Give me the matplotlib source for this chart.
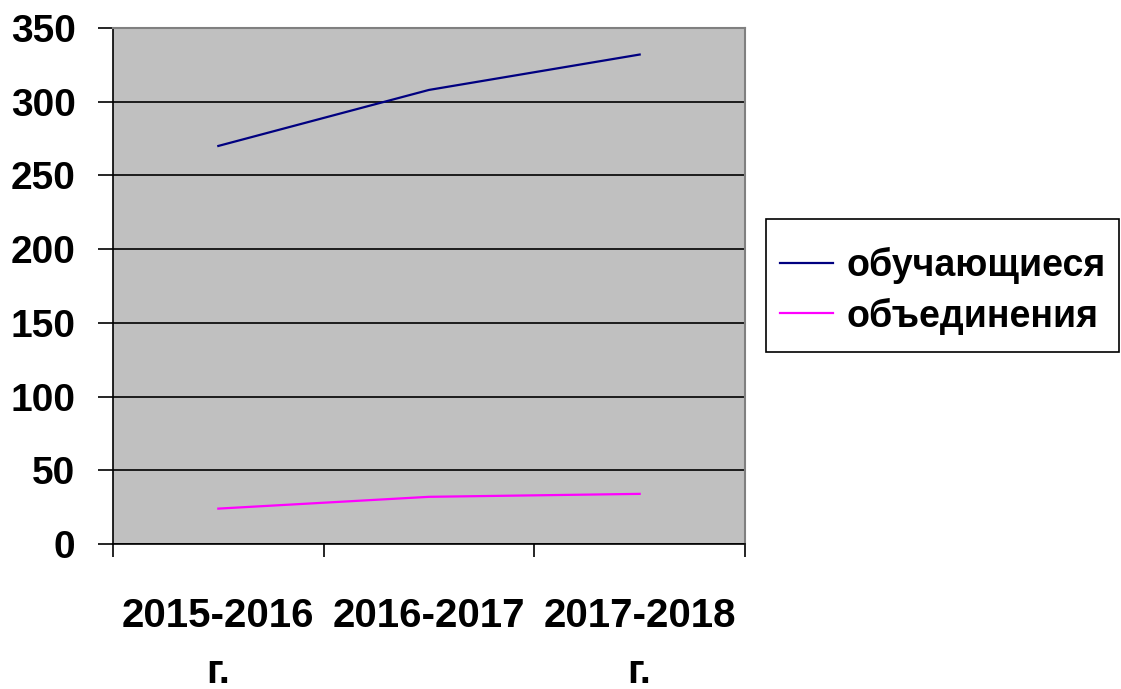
import matplotlib
matplotlib.use("Agg")
import matplotlib.pyplot as plt
from matplotlib.patches import Rectangle

categories = ["2015-2016\nг.", "2016-2017", "2017-2018\nг."]
students = [270, 308, 332]
groups = [24, 32, 34]
series_names = ["обучающиеся", "объединения"]
yticks = [0, 50, 100, 150, 200, 250, 300, 350]

plt.rcParams['font.family'] = ['Liberation Sans', 'DejaVu Sans']
plt.rcParams['font.weight'] = 'bold'

W, H = 1121, 689
fig = plt.figure(figsize=(W/100, H/100), dpi=100)
ax = fig.add_axes([113/W, 1-544/H, 632/W, 516/H])
ax.set_facecolor('#C0C0C0')

x = list(range(len(categories)))
ax.plot(x, students, color='#000080', lw=1.6, label=series_names[0])
ax.plot(x, groups, color='#FF00FF', lw=1.6, label=series_names[1])

ax.set_xlim(-0.5, len(categories)-0.5)
ax.set_ylim(0, 350)
ax.set_yticks(yticks)
ax.yaxis.grid(True, color='black', lw=1.2)
ax.set_axisbelow(True)

for s in ['top', 'right']:
    ax.spines[s].set_color('#808080')
    ax.spines[s].set_linewidth(1.5)
ax.spines['left'].set_color('black')
ax.spines['bottom'].set_color('black')
ax.spines['left'].set_linewidth(1.2)
ax.spines['bottom'].set_linewidth(1.2)

ax.tick_params(axis='y', length=11, width=1.2, direction='out', pad=16, labelsize=28)
ax.set_xticks(x)
ax.set_xticklabels(categories, fontsize=29, fontweight='bold', linespacing=1.6)
ax.tick_params(axis='x', length=0, pad=38)
ax.set_xticks([i - 0.5 for i in range(len(categories)+1)], minor=True)
ax.tick_params(axis='x', which='minor', length=9, width=1.2, direction='out')
for lbl in ax.get_yticklabels():
    lbl.set_fontweight('bold')

# legend entries (no frame) plus a box drawn around them
leg = fig.legend(loc='upper left', bbox_to_anchor=(780/W, 1-247/H),
                 bbox_transform=fig.transFigure, borderaxespad=0, borderpad=0,
                 prop={'size': 27, 'weight': 'bold'}, frameon=False,
                 handlelength=1.4, handletextpad=0.37, labelspacing=0.36)
fig.patches.append(Rectangle((766/W, 1-352/H), 353/W, 133/H, transform=fig.transFigure,
                             fill=False, ec='black', lw=1.2))

fig.savefig('out.png', dpi=100)
